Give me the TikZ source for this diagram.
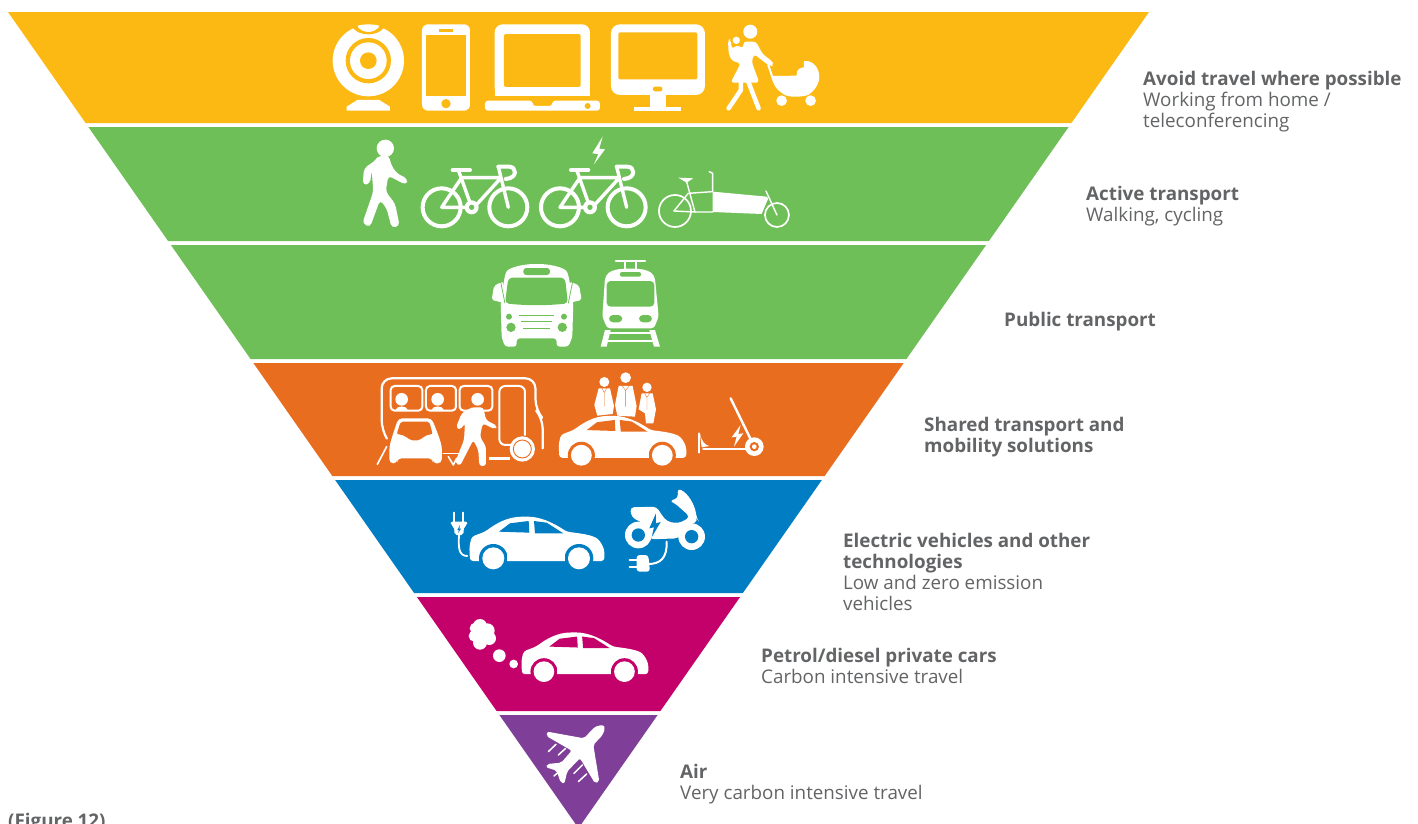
\documentclass[tikz,border=0pt]{standalone}
\usepackage{fontspec}
\setmainfont{Open Sans}
\definecolor{avoidyellow}{HTML}{FDB913}
\definecolor{activegreen}{HTML}{6FBF58}
\definecolor{sharedorange}{HTML}{E96D1F}
\definecolor{evblue}{HTML}{007DC3}
\definecolor{petrolpink}{HTML}{C4006B}
\definecolor{airpurple}{HTML}{7F3F98}
\definecolor{labelgrey}{HTML}{636466}
\tikzset{
	labeltext/.style={anchor=north west,inner sep=0pt,align=left,text=labelgrey,font=\fontsize{18.8}{21}\selectfont},
	iconline/.style={draw=white,line cap=round,line join=round,fill=none},
	% crops of the picture at three times its size
	cropone/.style={shift={(320pt,-10pt)},x=.3333pt,y=-.3333pt},
	croptwo/.style={shift={(360pt,-250pt)},x=.3333pt,y=-.3333pt},
	cropthree/.style={shift={(430pt,-480pt)},x=.3333pt,y=-.3333pt},
	pics/carshape/.style={code={
		\fill[white,rounded corners=3pt] (-200,-25) -- (-202,-68) -- (-195,-98) -- (-155,-113) .. controls (-125,-135) and (-90,-158) .. (-35,-158)
			.. controls (10,-158) and (50,-140) .. (90,-113) .. controls (130,-108) and (170,-103) .. (190,-85) -- (203,-60) -- (203,-25) -- cycle;
		\fill[#1] (-113,-113) -- (-80,-138) -- (-24,-145) -- (-22,-110) -- cycle;
		\fill[#1] (-8,-145) -- (30,-140) -- (80,-108) -- (-5,-108) -- cycle;
		\fill[#1] (-130,-33) circle (43);
		\fill[#1] (127,-33) circle (43);
		\fill[white] (-130,-33) circle (33);
		\fill[white] (127,-33) circle (33);
		\fill[white] (-88,-50) rectangle (85,-25);
	}},
	pics/bikeshape/.style={code={
		\draw[iconline,line width=4pt] (-90,0) circle (57);
		\draw[iconline,line width=4pt] (110,0) circle (57);
		\draw[iconline,line width=3.4pt] (-90,0) -- (-30,-89) -- (85,-89) (-90,0) -- (0,0) (85,-85) -- (10,-3);
		\draw[iconline,line width=3.4pt] (-40,-112) -- (0,0);
		\draw[iconline,line width=3.4pt] (80,-122) -- (110,0);
		\draw[iconline,line width=4pt] (-57,-112) -- (-5,-112);
		\draw[iconline,line width=4pt] (80,-122) -- (112,-122) .. controls (135,-122) and (140,-88) .. (102,-85);
		\fill[white] (0,0) circle (21);
		\fill[#1] (0,0) circle (8);
	}},
}

\begin{document}
\begin{tikzpicture}[x=1pt,y=-1pt]
	\clip (0,0) rectangle (1418,823);
	
	% The bands of the funnel, all on the same two slanted sides
	\foreach \bandtop/\bandbot/\bandcol in {12/123/avoidyellow,127/241/activegreen,245/359/activegreen,363/476/sharedorange,480/593/evblue,597/711/petrolpink,715/830/airpurple}{
		\pgfmathsetmacro\lefttop{8+.699*(\bandtop-12)}
		\pgfmathsetmacro\leftbot{8+.699*(\bandbot-12)}
		\pgfmathsetmacro\righttop{1149-.699*(\bandtop-12)}
		\pgfmathsetmacro\rightbot{1149-.699*(\bandbot-12)}
		\fill[\bandcol] (\lefttop,\bandtop) -- (\righttop,\bandtop) -- (\rightbot,\bandbot) -- (\leftbot,\bandbot) -- cycle;
	}
	
	% Avoid travel: webcam, phone, laptop, monitor, mother with pram
	\begin{scope}[cropone]
		\fill[white] (145,152) circle (107);
		\fill[avoidyellow] (145,152) circle (68);
		\fill[white] (145,152) circle (55);
		\fill[avoidyellow] (145,152) circle (25);
		\fill[avoidyellow] (95,45) rectangle (195,52);
		\fill[avoidyellow] (98,52) .. controls (115,80) and (175,80) .. (192,52) -- (180,48) .. controls (165,70) and (125,70) .. (110,48) -- cycle;
		\fill[white] (113,47) .. controls (130,42) and (160,42) .. (178,47) .. controls (165,72) and (125,72) .. (113,47) -- cycle;
		\fill[white] (80,290) -- (112,270) -- (178,270) -- (210,290) -- (210,302) -- (80,302) -- cycle;
		
		\fill[white,rounded corners=6pt] (306,43) rectangle (450,302);
		\fill[avoidyellow] (317,74) rectangle (439,258);
		\fill[avoidyellow] (356,58) rectangle (400,65);
		\fill[avoidyellow] (378,281) circle (14);
		
		\fill[white,rounded corners=8pt] (524,258) -- (524,43) -- (810,43) -- (810,258) -- cycle;
		\fill[white] (524,240) rectangle (810,258);
		\fill[avoidyellow,rounded corners=2pt] (552,72) rectangle (782,231);
		\fill[white,rounded corners=3pt] (495,272) -- (638,272) -- (638,288) -- (697,288) -- (697,272) -- (840,272) -- (840,302) -- (495,302) -- cycle;
		\fill[avoidyellow] (803,288) circle (9);
		
		\fill[white,rounded corners=9pt] (873,43) rectangle (1155,255);
		\fill[avoidyellow,rounded corners=2pt] (895,67) rectangle (1132,208);
		\fill[avoidyellow,rounded corners=2pt] (999,230) rectangle (1027,244);
		\fill[white] (990,250) rectangle (1037,291);
		\fill[white] (942,291) rectangle (1083,302);
		
		\fill[white] (1291,65) circle (21);
		\fill[white] (1249,91) circle (11);
		\fill[white,rounded corners=3pt] (1270,95) -- (1308,95) -- (1328,132) -- (1358,155) -- (1360,165) -- (1352,170) -- (1312,140) -- (1303,132) -- (1295,155) -- (1318,218) -- (1232,218) -- (1262,160) -- (1235,152) -- (1226,130) -- (1224,90) -- (1232,88) -- (1236,118) -- (1250,105) -- (1270,115) -- cycle;
		\draw[iconline,line width=4.5pt] (1263,215) -- (1263,240) -- (1226,295);
		\draw[iconline,line width=4.5pt] (1285,215) -- (1316,295);
		\draw[iconline,line width=2pt] (1345,165) -- (1360,210);
		\fill[white] (1355,198) -- (1430,197) .. controls (1428,180) and (1440,172) .. (1452,172) -- (1452,153) .. controls (1480,150) and (1498,175) .. (1498,200)
			.. controls (1498,225) and (1480,245) .. (1465,255) .. controls (1440,262) and (1410,262) .. (1395,255) .. controls (1370,240) and (1358,225) .. (1355,198) -- cycle;
		\fill[white] (1385,272) circle (16);
		\fill[white] (1472,272) circle (16);
	\end{scope}
	
	% Active transport: walker, two bikes, cargo bike
	\begin{scope}[cropone]
		\fill[white] (196,415) circle (26);
		\fill[white,rounded corners=4pt] (175,437) -- (208,437) -- (212,462) -- (230,490) -- (264,507) -- (258,525) -- (205,497) -- (197,545) -- (225,580) -- (239,648) -- (215,654) -- (200,595) -- (180,570) -- (150,652) -- (127,640) -- (160,545) -- (155,480) -- (150,522) -- (128,525) -- (132,475) -- (168,450) -- cycle;
		\pic at (455,592) {bikeshape=activegreen};
		\pic at (810,592) {bikeshape=activegreen};
		\fill[white] (848,380) -- (817,430) -- (835,432) -- (822,463) -- (855,418) -- (838,416) -- cycle;
		
		\draw[iconline,line width=1.7pt] (1065,603) circle (48);
		\draw[iconline,line width=1.7pt] (1371,615) circle (36);
		\fill[white] (1178,545) -- (1340,560) -- (1345,565) -- (1325,612) -- (1178,606) -- cycle;
		\draw[iconline,line width=1.4pt] (1062,603) -- (1105,550) -- (1178,545) -- (1178,490) -- (1168,485);
		\draw[iconline,line width=1.4pt] (1062,603) -- (1125,606) -- (1100,515);
		\draw[iconline,line width=1.4pt] (1125,606) -- (1178,606) (1338,543) -- (1371,615);
		\fill[white] (1075,503) -- (1120,505) -- (1100,518) -- cycle;
	\end{scope}
	
	% Public transport: bus and tram
	\begin{scope}[croptwo]
		\fill[white,rounded corners=3pt] (435,75) .. controls (445,50) and (500,42) .. (530,42) .. controls (560,42) and (615,50) .. (625,75) -- (640,155) -- (637,262) -- (625,290) -- (590,290) -- (590,265) -- (470,265) -- (470,290) -- (435,290) -- (425,262) -- (422,155) -- cycle;
		\fill[activegreen,rounded corners=4pt] (445,83) -- (615,83) -- (624,160) .. controls (560,167) and (500,167) .. (435,160) -- cycle;
		\fill[activegreen,rounded corners=3pt] (490,54) rectangle (570,75);
		\fill[white,rounded corners=2pt] (412,102) -- (430,95) -- (430,158) -- (395,150) -- (402,108) -- cycle;
		\fill[white,rounded corners=2pt] (648,102) -- (630,95) -- (630,158) -- (665,150) -- (658,108) -- cycle;
		\draw[activegreen,line width=.8pt] (422,95) -- (435,160) (638,95) -- (625,160);
		\fill[activegreen] (447,200) circle (9);
		\fill[activegreen] (453,232) circle (14);
		\fill[activegreen] (612,200) circle (9);
		\fill[activegreen] (607,232) circle (14);
		\draw[activegreen,line width=1.2pt] (478,197) -- (582,197) (484,215) -- (576,215) (490,235) -- (570,235);
		
		\draw[iconline,line width=2.5pt] (768,33) -- (855,33);
		\draw[iconline,line width=1.6pt] (795,33) -- (795,60) (828,33) -- (828,60);
		\fill[white,rounded corners=3pt] (735,85) .. controls (745,65) and (765,56) .. (810,56) .. controls (855,56) and (875,65) .. (885,85) -- (896,200) -- (882,235) -- (742,235) -- (727,200) -- cycle;
		\fill[activegreen,rounded corners=4pt] (740,93) rectangle (883,170);
		\fill[activegreen,rounded corners=2pt] (780,66) rectangle (843,80);
		\fill[activegreen,rounded corners=4pt] (747,195) rectangle (787,217);
		\fill[activegreen,rounded corners=4pt] (837,195) rectangle (876,217);
		\fill[white] (735,240) -- (752,240) -- (740,290) -- (722,290) -- cycle;
		\fill[white] (885,240) -- (868,240) -- (882,290) -- (900,290) -- cycle;
		\fill[white] (745,245) rectangle (878,252);
		\fill[white] (735,270) rectangle (888,276);
	\end{scope}
	
	% Shared transport: bus with car and person, car with people, scooter
	\begin{scope}[croptwo]
		\draw[iconline,line width=2.2pt,rounded corners=10pt] (80,565) -- (65,540) -- (65,385) -- (526,385) -- (527,480) -- (548,505) -- (548,595);
		\draw[iconline,line width=2pt,rounded corners=4pt] (92,408) rectangle (187,482);
		\draw[iconline,line width=2pt,rounded corners=4pt] (198,408) rectangle (288,482);
		\draw[iconline,line width=2pt,rounded corners=6pt] (455,585) -- (418,585) -- (418,408) -- (495,408) -- (495,555);
		\fill[white] (125,448) circle (19);
		\fill[white] (233,448) circle (19);
		\fill[white] (105,482) .. controls (110,465) and (140,465) .. (145,482) -- cycle;
		\fill[white] (213,482) .. controls (218,465) and (248,465) .. (253,482) -- cycle;
		\draw[iconline,line width=2pt,rounded corners=4pt] (397,482) -- (299,482) -- (299,408) -- (397,408) -- cycle;
		\fill[white] (353,448) circle (19);
		\fill[white,rounded corners=3pt] (335,472) -- (370,472) -- (378,510) -- (412,528) -- (405,538) -- (368,520) -- (360,560) -- (378,590) -- (378,648) -- (358,648) -- (355,600) -- (340,570) -- (300,648) -- (285,638) -- (312,570) -- (315,520) -- (300,540) -- (288,532) -- (305,490) -- cycle;
		\fill[white,rounded corners=4pt] (115,505) -- (215,505) -- (235,555) -- (246,590) -- (245,640) -- (218,640) -- (218,625) -- (112,625) -- (112,640) -- (88,640) -- (88,590) -- (98,555) -- cycle;
		\fill[sharedorange,rounded corners=2pt] (122,515) -- (208,515) -- (218,553) .. controls (195,553) and (185,570) .. (165,572) .. controls (145,570) and (135,553) .. (110,553) -- cycle;
		\fill[white] (487,597) circle (38);
		\draw[sharedorange,line width=.9pt] (487,597) circle (27);
		\draw[iconline,line width=1.6pt] (52,643) -- (80,590);
		\draw[iconline,line width=1.4pt] (250,610) -- (300,610);
		\draw[iconline,line width=1.6pt] (265,620) -- (280,645) -- (290,625);
		\draw[white,line width=2.5pt] (388,626) -- (450,626);
		
		\fill[white] (733,396) circle (15);
		\fill[white] (797,383) circle (16);
		\fill[white] (861,412) circle (14);
		\fill[white] (716,415) -- (750,415) -- (762,468) -- (758,492) -- (712,497) -- (703,465) -- cycle;
		\fill[white] (776,408) -- (818,408) -- (830,468) -- (825,500) -- (772,497) -- (765,465) -- cycle;
		\fill[white] (845,430) -- (878,430) -- (888,478) -- (880,520) -- (858,520) -- (855,490) -- (836,478) -- cycle;
		\draw[sharedorange,line width=.35pt] (726,415) -- (733,428) -- (740,415) (733,428) -- (733,470) (787,408) -- (797,422) -- (807,408) (797,422) -- (797,470) (854,430) -- (861,442) -- (869,430) (861,442) -- (861,480);
		\pic[scale=.945] at (787,647) {carshape=sharedorange};
		
		\draw[iconline,line width=2.4pt] (1112,445) -- (1183,590);
		\draw[iconline,line width=2.4pt] (1030,597) -- (1160,597);
		\draw[iconline,line width=1.8pt] (1018,550) -- (1018,608);
		\fill[white] (1020,550) .. controls (1025,575) and (1035,585) .. (1048,588) -- (1025,592) -- cycle;
		\fill[white] (1142,525) -- (1115,562) -- (1130,560) -- (1122,590) -- (1150,550) -- (1135,552) -- cycle;
		\fill[white] (1183,590) circle (28);
		\fill[sharedorange] (1183,590) circle (14);
		\fill[white] (1183,590) circle (7);
	\end{scope}
	
	% Electric vehicles: car with plug, moped with plug
	\begin{scope}[cropthree]
		\pic at (320,268) {carshape=evblue};
		\draw[iconline,line width=2pt] (73,98) -- (73,125) (100,98) -- (100,125);
		\fill[white,rounded corners=2pt] (62,125) -- (112,125) -- (112,135) -- (102,140) -- (100,165) -- (74,165) -- (72,140) -- (62,135) -- cycle;
		\fill[evblue] (90,135) -- (82,150) -- (87,150) -- (84,160) -- (93,146) -- (88,146) -- cycle;
		\draw[iconline,line width=1.8pt] (87,165) .. controls (85,200) and (85,228) .. (112,228);
		
		\fill[white,rounded corners=4pt] (600,82) -- (680,80) -- (695,105) -- (712,125) -- (745,130) -- (770,118) -- (780,110) -- (735,70) -- (718,62) -- (745,55) -- (742,25) .. controls (775,40) and (795,75) .. (800,115) -- (805,122) -- (770,140) -- (745,175) -- (660,178) -- (640,130) -- (605,112) -- cycle;
		\fill[white] (625,165) circle (40);
		\fill[white] (785,170) circle (40);
		\fill[evblue] (625,165) circle (20);
		\fill[evblue] (785,170) circle (20);
		\fill[evblue] (678,100) -- (658,145) -- (672,142) -- (665,172) -- (692,126) -- (678,130) -- cycle;
		\draw[iconline,line width=2pt] (710,185) .. controls (712,235) and (690,252) .. (655,252);
		\fill[white,rounded corners=3pt] (620,225) -- (655,225) -- (660,275) -- (620,275) -- cycle;
		\draw[iconline,line width=2.2pt] (599,240) -- (620,240) (599,262) -- (620,262);
	\end{scope}
	
	% Petrol and diesel cars: car with exhaust cloud
	\begin{scope}[cropthree]
		\pic[scale=.94] at (464,606) {carshape=petrolpink};
		\foreach \puffx/\puffy/\puffr in {150/438/21,172/452/22,178/475/20,150/488/21,133/468/17,136/445/17,155/465/24,208/527/19,251/552/13}{
			\fill[white] (\puffx,\puffy) circle (\puffr);
		}
	\end{scope}
	
	% Air: aeroplane and its speed lines
	\begin{scope}[cropthree]
		\fill[white,rounded corners=2pt] (525,745) .. controls (520,732) and (500,738) .. (490,745) -- (462,775) -- (352,755) -- (349,768) -- (425,812) -- (394,848) -- (352,852) -- (348,862) -- (380,872) -- (392,908) -- (403,911) -- (412,874) -- (450,835) -- (495,910) -- (508,905) -- (490,795) -- (518,765) -- cycle;
		\draw[iconline,line width=1.5pt] (355,815) -- (378,793) (385,825) -- (407,805) (432,880) -- (457,855) (445,905) -- (470,882) (372,888) -- (385,877);
	\end{scope}
	
	% Labels on the right of the funnel
	\node[labeltext] (labavoid) at (1143,71) {\textbf{Avoid travel where possible}\\Working from home /\\teleconferencing};
	\node[labeltext] (labactive) at (1086,186) {\textbf{Active transport}\\Walking, cycling};
	\node[labeltext] (labpublic) at (1004,312) {\textbf{Public transport}};
	\node[labeltext] (labshared) at (924,417) {\textbf{Shared transport and}\\\textbf{mobility solutions}};
	\node[labeltext] (labelectric) at (843,533) {\textbf{Electric vehicles and other}\\\textbf{technologies}\\Low and zero emission\\vehicles};
	\node[labeltext] (labpetrol) at (761,648) {\textbf{Petrol/diesel private cars}\\Carbon intensive travel};
	\node[labeltext] (labair) at (680,764) {\textbf{Air}\\Very carbon intensive travel};
	\node[labeltext] (labfigure) at (8,813) {\textbf{(Figure 12)}};
\end{tikzpicture}
\end{document}
